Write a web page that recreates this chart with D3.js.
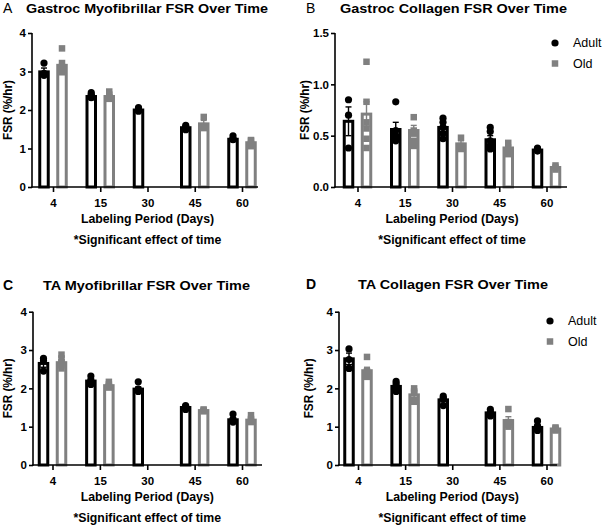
<!DOCTYPE html>
<html>
<head>
<meta charset="utf-8">
<script src="https://cdn.jsdelivr.net/npm/d3@7"></script>
<style>
  html, body { margin: 0; padding: 0; background: #fff; }
  svg { display: block; }
  text { font-family: "Liberation Sans", Arial, Helvetica, sans-serif; }
</style>
</head>
<body>
<svg id="chart" width="602" height="527"></svg>
<script>
// ---------- DATA ----------
const days = [4, 15, 30, 45, 60];
const dayLabels = ["4", "15", "30", "45", "60"];
const groups = ["Adult", "Old"];
const fsrTicks = [0, 1, 2, 3, 4];
const fsrTickLabels = ["0", "1", "2", "3", "4"];
const collagenTicks = [0, 0.5, 1.0, 1.5];
const collagenTickLabels = ["0.0", "0.5", "1.0", "1.5"];
const panelLetters = ["A", "B", "C", "D"];
const panelTitles = [
  "Gastroc Myofibrillar FSR Over Time",
  "Gastroc Collagen FSR Over Time",
  "TA Myofibrillar FSR Over Time",
  "TA Collagen FSR Over Time"
];
const xAxisTitle = "Labeling Period (Days)";
const noteText = "*Significant effect of time";
const yAxisTitle = "FSR (%/hr)";

// A: Gastroc myofibrillar
const gmAdultMean = [2.99, 2.35, 2.0, 1.54, 1.24];
const gmAdultSem  = [0.10, 0.03, 0.03, 0.03, 0.04];
const gmOldMean   = [3.16, 2.35, null, 1.64, 1.15];
const gmOldSem    = [0.12, 0.05, null, 0.09, 0.04];
const gmAdultPts  = [[3.22, 2.95, 2.90], [2.45, 2.40, 2.36, 2.33, 2.32], [2.06, 2.02, 1.99, 1.97], [1.60, 1.56, 1.52, 1.49], [1.33, 1.26, 1.24, 1.23]];
const gmOldPts    = [[3.60, 3.22, 3.12, 3.05, 2.98], [2.48, 2.40, 2.33, 2.29], [], [1.82, 1.58, 1.53], [1.22, 1.20, 1.12, 1.06]];

// B: Gastroc collagen
const gcAdultMean = [0.64, 0.56, 0.58, 0.46, 0.36];
const gcAdultSem  = [0.14, 0.07, 0.04, 0.04, 0.01];
const gcOldMean   = [0.71, 0.55, 0.42, 0.38, 0.19];
const gcOldSem    = [0.12, 0.05, 0.03, 0.03, 0.01];
const gcAdultPts  = [[0.85, 0.70, 0.38], [0.83, 0.55, 0.50, 0.47, 0.45], [0.67, 0.63, 0.58, 0.52, 0.47], [0.58, 0.54, 0.45, 0.40, 0.37], [0.38, 0.37, 0.36, 0.35]];
const gcOldPts    = [[1.22, 0.83, 0.63, 0.57, 0.47, 0.38], [0.68, 0.55, 0.52, 0.45, 0.40], [0.48, 0.40, 0.37], [0.43, 0.37, 0.32], [0.21, 0.19, 0.17]];

// C: TA myofibrillar
const tmAdultMean = [2.65, 2.19, 1.98, 1.50, 1.18];
const tmAdultSem  = [0.10, 0.04, 0.06, 0.02, 0.05];
const tmOldMean   = [2.67, 2.07, null, 1.42, 1.17];
const tmOldSem    = [0.06, 0.03, null, 0.02, 0.04];
const tmAdultPts  = [[2.78, 2.72, 2.45], [2.32, 2.22, 2.17, 2.13, 2.10], [2.17, 1.98, 1.95, 1.92], [1.55, 1.52, 1.48, 1.45], [1.33, 1.20, 1.15, 1.12]];
const tmOldPts    = [[2.88, 2.78, 2.68, 2.60, 2.52], [2.17, 2.10, 2.05, 2.02], [], [1.45, 1.42, 1.40], [1.30, 1.20, 1.15, 1.12]];

// D: TA collagen
const tcAdultMean = [2.77, 2.05, 1.70, 1.36, 0.98];
const tcAdultSem  = [0.15, 0.05, 0.05, 0.04, 0.04];
const tcOldMean   = [2.46, 1.83, null, 1.16, 0.94];
const tcOldSem    = [0.09, 0.07, null, 0.10, 0.02];
const tcAdultPts  = [[3.03, 2.75, 2.52], [2.18, 2.12, 2.05, 1.98, 1.92], [1.80, 1.75, 1.72, 1.55], [1.45, 1.38, 1.33, 1.28], [1.15, 1.02, 0.98, 0.92, 0.90]];
const tcOldPts    = [[2.82, 2.45, 2.40, 2.35, 2.30], [2.00, 1.92, 1.88, 1.70, 1.65], [], [1.46, 1.12, 1.05, 1.00], [0.98, 0.95, 0.92, 0.90]];

// ---------- LAYOUT ----------
const GRAY = "#808080";
const FONT = '"Liberation Sans", Arial, Helvetica, sans-serif';
const svg = d3.select("#chart");

const panels = [
  { letter: panelLetters[0], title: panelTitles[0], letterBold: false,
    am: gmAdultMean, as: gmAdultSem, om: gmOldMean, os: gmOldSem, ap: gmAdultPts, op: gmOldPts,
    ymax: 4, ticks: fsrTicks, tickLabels: fsrTickLabels,
    x0: 32, x1: 258, yTop: 33, yBot: 187, xr: [53, 242],
    letterX: 3, titleX: 26, titleW: 242, titleY: 12.5, ylabX: 8, legend: null },
  { letter: panelLetters[1], title: panelTitles[1], letterBold: false,
    am: gcAdultMean, as: gcAdultSem, om: gcOldMean, os: gcOldSem, ap: gcAdultPts, op: gcOldPts,
    ymax: 1.5, ticks: collagenTicks, tickLabels: collagenTickLabels,
    x0: 335, x1: 567, yTop: 33, yBot: 187, xr: [357.5, 546.5],
    letterX: 306, titleX: 340, titleW: 227, titleY: 12.5, ylabX: 305, legend: { x: 555, y: 43, tx: 573 } },
  { letter: panelLetters[2], title: panelTitles[2], letterBold: true,
    am: tmAdultMean, as: tmAdultSem, om: tmOldMean, os: tmOldSem, ap: tmAdultPts, op: tmOldPts,
    ymax: 4, ticks: fsrTicks, tickLabels: fsrTickLabels,
    x0: 33, x1: 262, yTop: 311.7, yBot: 465, xr: [52.5, 242],
    letterX: 3, titleX: 43, titleW: 207, titleY: 290, ylabX: 8, legend: null },
  { letter: panelLetters[3], title: panelTitles[3], letterBold: true,
    am: tcAdultMean, as: tcAdultSem, om: tcOldMean, os: tcOldSem, ap: tcAdultPts, op: tcOldPts,
    ymax: 4, ticks: fsrTicks, tickLabels: fsrTickLabels,
    x0: 339, x1: 557, yTop: 311.7, yBot: 465, xr: [358, 546.5],
    letterX: 306, titleX: 358, titleW: 190, titleY: 289, ylabX: 309, legend: { x: 550, y: 321, tx: 568 } }
];

function drawPanel(p) {
  const g = svg.append("g");
  const x = d3.scalePoint().domain(days).range(p.xr);
  const y = d3.scaleLinear().domain([0, p.ymax]).range([p.yBot, p.yTop]);
  const off = 9, w = 8.5, sq = 6.5, r = 3.6, cap = 3;

  const series = [
    { mean: p.am, sem: p.as, pts: p.ap, color: "#000", dx: -off, shape: "circle" },
    { mean: p.om, sem: p.os, pts: p.op, color: GRAY, dx: off, shape: "square" }
  ];

  // bars
  series.forEach(s => {
    const idx = days.map((d, i) => i).filter(i => s.mean[i] != null);
    g.append("g").selectAll("rect").data(idx).join("rect")
      .attr("x", i => x(days[i]) + s.dx - w / 2)
      .attr("y", i => y(s.mean[i]))
      .attr("width", w)
      .attr("height", i => y(0) - y(s.mean[i]))
      .attr("fill", "#fff")
      .attr("stroke", s.color)
      .attr("stroke-width", 3);
  });

  // axes
  const ya = g.append("g").attr("transform", `translate(${p.x0},0)`)
    .call(d3.axisLeft(y).tickValues(p.ticks).tickSize(4).tickPadding(2).tickSizeOuter(0)
      .tickFormat((d, i) => p.tickLabels[i]));
  ya.select(".domain").remove();
  ya.selectAll("line").attr("stroke", "#000").attr("stroke-width", 1.6);
  ya.selectAll("text").attr("font-family", FONT).attr("font-size", 11.5).attr("font-weight", "bold").attr("fill", "#000");
  g.append("line").attr("x1", p.x0).attr("x2", p.x0).attr("y1", p.yTop).attr("y2", p.yBot + 0.8)
    .attr("stroke", "#000").attr("stroke-width", 1.6);

  const xa = g.append("g").attr("transform", `translate(0,${p.yBot})`)
    .call(d3.axisBottom(x).tickSize(5).tickPadding(7).tickSizeOuter(0)
      .tickFormat((d, i) => dayLabels[i]));
  xa.select(".domain").remove();
  xa.selectAll("line").attr("stroke", "#000").attr("stroke-width", 1.6);
  xa.selectAll("text").attr("font-family", FONT).attr("font-size", 11.5).attr("font-weight", "bold").attr("fill", "#000");
  g.append("line").attr("x1", p.x0 - 0.8).attr("x2", p.x1).attr("y1", p.yBot).attr("y2", p.yBot)
    .attr("stroke", "#000").attr("stroke-width", 1.6);

  // error bars
  series.forEach(s => {
    const idx = days.map((d, i) => i).filter(i => s.mean[i] != null);
    const eg = g.append("g").attr("stroke", s.color).attr("stroke-width", 1.4);
    idx.forEach(i => {
      const cx = x(days[i]) + s.dx;
      const top = y(s.mean[i] + s.sem[i]);
      const bot = y(s.mean[i] - s.sem[i]);
      eg.append("line").attr("x1", cx).attr("x2", cx).attr("y1", top).attr("y2", bot);
      eg.append("line").attr("x1", cx - cap).attr("x2", cx + cap).attr("y1", top).attr("y2", top);
      eg.append("line").attr("x1", cx - cap).attr("x2", cx + cap).attr("y1", bot).attr("y2", bot);
    });
  });

  // points
  series.forEach(s => {
    const flat = [];
    s.pts.forEach((arr, i) => arr.forEach(v => flat.push({ i, v })));
    const pg = g.append("g");
    if (s.shape === "circle") {
      pg.selectAll("circle").data(flat).join("circle")
        .attr("cx", d => x(days[d.i]) + s.dx)
        .attr("cy", d => y(d.v))
        .attr("r", r)
        .attr("fill", s.color);
    } else {
      pg.selectAll("rect").data(flat).join("rect")
        .attr("x", d => x(days[d.i]) + s.dx - sq / 2)
        .attr("y", d => y(d.v) - sq / 2)
        .attr("width", sq).attr("height", sq)
        .attr("fill", s.color);
    }
  });

  // titles
  g.append("text").attr("x", p.letterX).attr("y", p.titleY)
    .attr("font-size", 14).attr("font-weight", p.letterBold ? "bold" : "normal").attr("fill", "#000")
    .text(p.letter);
  g.append("text").attr("x", p.titleX).attr("y", p.titleY)
    .attr("font-size", 12.5).attr("font-weight", "bold").attr("fill", "#000")
    .attr("textLength", p.titleW).attr("lengthAdjust", "spacingAndGlyphs")
    .text(p.title);

  const cxMid = (p.xr[0] + p.xr[1]) / 2;
  g.append("text").attr("x", cxMid).attr("y", p.yBot + 35.5).attr("text-anchor", "middle")
    .attr("font-size", 12.3).attr("font-weight", "bold").text(xAxisTitle);
  g.append("text").attr("x", cxMid).attr("y", p.yBot + 57).attr("text-anchor", "middle")
    .attr("font-size", 12.3).attr("font-weight", "bold").text(noteText);

  const cyMid = (p.yTop + p.yBot) / 2;
  g.append("text").attr("transform", `translate(${p.ylabX},${cyMid}) rotate(-90)`)
    .attr("text-anchor", "middle").attr("dy", "0.35em")
    .attr("font-size", 12).attr("font-weight", "bold")
    .attr("textLength", 60).attr("lengthAdjust", "spacingAndGlyphs")
    .text(yAxisTitle);

  // legend
  if (p.legend) {
    const L = p.legend;
    g.append("circle").attr("cx", L.x).attr("cy", L.y).attr("r", r).attr("fill", "#000");
    g.append("text").attr("x", L.tx).attr("y", L.y + 4.2).attr("font-size", 12.5).text(groups[0]);
    g.append("rect").attr("x", L.x - sq / 2).attr("y", L.y + 20.5 - sq / 2).attr("width", sq).attr("height", sq).attr("fill", GRAY);
    g.append("text").attr("x", L.tx).attr("y", L.y + 24.5).attr("font-size", 12.5).text(groups[1]);
  }
}

panels.forEach(drawPanel);
</script>
</body>
</html>
